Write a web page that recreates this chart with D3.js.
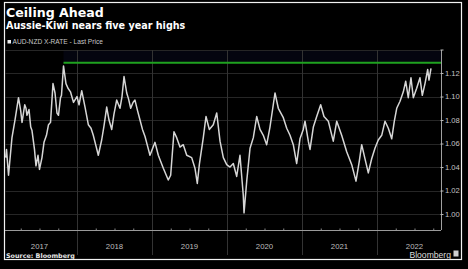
<!DOCTYPE html>
<html>
<head>
<meta charset="utf-8">
<script src="https://cdn.jsdelivr.net/npm/d3@7"></script>
<style>
  html, body { margin: 0; padding: 0; background: #000; }
  svg { display: block; }
  text { font-family: "Liberation Sans", Arial, sans-serif; }
</style>
</head>
<body>
<svg></svg>
<script>
// decimal years
const years = [
  2017.049, 2017.060, 2017.087, 2017.120, 2017.133, 2017.173, 2017.220, 2017.249, 2017.267, 2017.303,
  2017.320, 2017.333, 2017.360, 2017.383, 2017.400, 2017.433, 2017.453, 2017.480, 2017.500, 2017.533,
  2017.560, 2017.593, 2017.620, 2017.647, 2017.680, 2017.707, 2017.733, 2017.753, 2017.780, 2017.793,
  2017.820, 2017.853, 2017.880, 2017.913, 2017.953, 2018.000, 2018.027, 2018.063, 2018.107, 2018.151,
  2018.187, 2018.217, 2018.253, 2018.284, 2018.329, 2018.360, 2018.396, 2018.427, 2018.463, 2018.493,
  2018.529, 2018.573, 2018.600, 2018.627, 2018.663, 2018.687, 2018.716, 2018.747, 2018.773, 2018.807,
  2018.840, 2018.873, 2018.907, 2018.940, 2018.973, 2019.040, 2019.084, 2019.151, 2019.217, 2019.249,
  2019.293, 2019.329, 2019.373, 2019.417, 2019.463, 2019.529, 2019.573, 2019.604, 2019.631, 2019.684,
  2019.720, 2019.764, 2019.817, 2019.863, 2019.907, 2019.951, 2019.996, 2020.040, 2020.084, 2020.129,
  2020.173, 2020.217, 2020.227, 2020.263, 2020.307, 2020.351, 2020.396, 2020.440, 2020.484, 2020.529,
  2020.573, 2020.617, 2020.640, 2020.684, 2020.751, 2020.796, 2020.840, 2020.884, 2020.929, 2020.973,
  2021.017, 2021.040, 2021.084, 2021.107, 2021.151, 2021.196, 2021.249, 2021.293, 2021.351, 2021.417,
  2021.463, 2021.529, 2021.596, 2021.663, 2021.720, 2021.764, 2021.796, 2021.840, 2021.884, 2021.929,
  2021.973, 2022.017, 2022.063, 2022.107, 2022.151, 2022.196, 2022.231, 2022.263, 2022.307, 2022.351,
  2022.383, 2022.417, 2022.453, 2022.484, 2022.529, 2022.573, 2022.604, 2022.640, 2022.676, 2022.693,
  2022.720
];

// AUD-NZD cross rate, last price
const rates = [
  1.048, 1.055, 1.033, 1.056, 1.065, 1.080, 1.099, 1.088, 1.078, 1.093,
  1.090, 1.084, 1.089, 1.074, 1.071, 1.055, 1.041, 1.050, 1.038, 1.048,
  1.061, 1.067, 1.076, 1.078, 1.111, 1.103, 1.086, 1.084, 1.099, 1.101,
  1.126, 1.111, 1.107, 1.104, 1.095, 1.100, 1.093, 1.105, 1.091, 1.076,
  1.073, 1.067, 1.058, 1.050, 1.063, 1.075, 1.091, 1.080, 1.072, 1.085,
  1.097, 1.090, 1.100, 1.117, 1.103, 1.098, 1.090, 1.095, 1.097, 1.088,
  1.080, 1.072, 1.066, 1.058, 1.050, 1.061, 1.050, 1.039, 1.029, 1.033,
  1.070, 1.065, 1.057, 1.059, 1.050, 1.048, 1.039, 1.026, 1.042, 1.065,
  1.083, 1.072, 1.076, 1.086, 1.062, 1.048, 1.042, 1.040, 1.043, 1.032,
  1.050, 1.016, 1.001, 1.028, 1.056, 1.065, 1.083, 1.072, 1.067, 1.059,
  1.074, 1.093, 1.103, 1.090, 1.082, 1.073, 1.067, 1.059, 1.043, 1.064,
  1.072, 1.079, 1.062, 1.055, 1.074, 1.083, 1.093, 1.083, 1.079, 1.062,
  1.079, 1.067, 1.053, 1.042, 1.028, 1.045, 1.059, 1.047, 1.035, 1.047,
  1.056, 1.063, 1.067, 1.079, 1.073, 1.064, 1.079, 1.090, 1.096, 1.104,
  1.113, 1.099, 1.116, 1.099, 1.107, 1.116, 1.101, 1.111, 1.123, 1.114,
  1.124
];

const ceiling = 1.1288;
const yTicks = [1.00, 1.02, 1.04, 1.06, 1.08, 1.10, 1.12, 1.14];
const yearLabels = ['2017', '2018', '2019', '2020', '2021', '2022'];

const width = 468;
const height = 269;
const plot = {left: 5, right: 441, top: 50, bottom: 230};

const data = years.map((d, i) => ({year: d, rate: rates[i]}));

const x = d3.scaleLinear()
            .domain([2017, 2023])
            .range([2, 452]);

const y = d3.scaleLinear()
            .domain([0.9864, 1.1396])
            .range([plot.bottom, plot.top]);

const svg = d3.select('svg')
    .attr('width', width)
    .attr('height', height)
    .style('background', '#000');

// frame
svg.append('rect')
    .attr('x', 4.5)
    .attr('y', 2.5)
    .attr('width', 457)
    .attr('height', 257)
    .attr('fill', 'none')
    .attr('stroke', '#f2f2f2')
    .attr('stroke-width', 1.2);

// titles
svg.append('text')
    .attr('x', 6)
    .attr('y', 17)
    .attr('fill', '#ffffff')
    .style('font-family', '"DejaVu Sans", sans-serif')
    .style('font-weight', 'bold')
    .style('font-size', '12.6px')
    .text('Ceiling Ahead');

svg.append('text')
    .attr('x', 6)
    .attr('y', 28.5)
    .attr('fill', '#ffffff')
    .style('font-family', '"DejaVu Sans", sans-serif')
    .style('font-weight', 'bold')
    .style('font-size', '9.6px')
    .text('Aussie-Kiwi nears five year highs');

// legend
svg.append('rect')
    .attr('x', 7.5)
    .attr('y', 40)
    .attr('width', 3.5)
    .attr('height', 3.5)
    .attr('fill', '#eeeeee');

svg.append('text')
    .attr('x', 12.5)
    .attr('y', 44.3)
    .attr('fill', '#c8c8c8')
    .style('font-size', '6.6px')
    .text('AUD-NZD X-RATE - Last Price');

// shaded band above the ceiling line
const peak = data[d3.maxIndex(data, d => d.rate)];

svg.append('rect')
    .attr('x', x(peak.year))
    .attr('y', plot.top)
    .attr('width', plot.right - x(peak.year))
    .attr('height', y(ceiling) - plot.top)
    .attr('fill', '#04050f');

// grid
svg.append('g')
  .selectAll('line')
  .data(yTicks)
  .join('line')
    .attr('x1', plot.left)
    .attr('x2', plot.right)
    .attr('y1', d => Math.round(y(d)) + 0.5)
    .attr('y2', d => Math.round(y(d)) + 0.5)
    .attr('stroke', '#262626');

svg.append('g')
  .selectAll('line')
  .data(d3.range(2018, 2023))
  .join('line')
    .attr('x1', d => Math.round(x(d)) + 0.5)
    .attr('x2', d => Math.round(x(d)) + 0.5)
    .attr('y1', plot.top)
    .attr('y2', 255)
    .attr('stroke', '#333333');

// ceiling line
svg.append('line')
    .attr('x1', x(peak.year))
    .attr('x2', plot.right)
    .attr('y1', y(ceiling))
    .attr('y2', y(ceiling))
    .attr('stroke', '#1fa21f')
    .attr('stroke-width', 2);

// price line
const line = d3.line()
               .x(d => x(d.year))
               .y(d => y(d.rate));

svg.append('path')
    .datum(data)
    .attr('d', line)
    .attr('fill', 'none')
    .attr('stroke', '#d6d6d6')
    .attr('stroke-width', 1.5)
    .attr('stroke-linejoin', 'round');

// bottom axis with quarter ticks
const quarters = d3.range(2017.25, 2022.9, 0.25).filter(d => d % 1 !== 0 && x(d) > plot.left && x(d) < plot.right);

const xAxis = svg.append('g')
    .attr('transform', `translate(0, ${plot.bottom + 0.5})`)
    .call(d3.axisBottom(x).tickValues(quarters).tickSize(-2).tickFormat(''));

xAxis.select('.domain').remove();
xAxis.selectAll('.tick line').attr('stroke', '#888');

svg.append('line')
    .attr('x1', plot.left)
    .attr('x2', plot.right)
    .attr('y1', plot.bottom + 0.5)
    .attr('y2', plot.bottom + 0.5)
    .attr('stroke', '#9a9a9a');

svg.append('g')
  .selectAll('text')
  .data(yearLabels)
  .join('text')
    .attr('x', d => x(+d + 0.5))
    .attr('y', 249)
    .attr('text-anchor', 'middle')
    .attr('fill', '#bdbdbd')
    .style('font-size', '7.8px')
    .text(d => d);

// right axis
const yAxis = svg.append('g')
    .attr('transform', `translate(${plot.right + 0.5}, 0)`)
    .call(d3.axisRight(y)
            .tickValues(yTicks)
            .tickSize(2)
            .tickPadding(1.5)
            .tickFormat(d => d === 1.14 ? '' : d3.format('.2f')(d)));

yAxis.select('.domain')
    .attr('d', `M0,${plot.top}V${plot.bottom}`)
    .attr('stroke', '#a0a0a0');
yAxis.selectAll('.tick line').attr('stroke', '#bbb').attr('x1', -1);
yAxis.selectAll('.tick text')
    .attr('fill', '#c4c4c4')
    .style('font-size', '7.6px')
    .style('font-family', '"Liberation Sans", Arial, sans-serif');

// footer
svg.append('text')
    .attr('x', 6)
    .attr('y', 257.5)
    .attr('fill', '#e8e8e8')
    .style('font-family', '"DejaVu Sans", sans-serif')
    .style('font-weight', 'bold')
    .style('font-size', '6.4px')
    .text('Source: Bloomberg');

svg.append('text')
    .attr('x', 451)
    .attr('y', 257.5)
    .attr('text-anchor', 'end')
    .attr('fill', '#dcdcdc')
    .style('font-size', '8.6px')
    .text('Bloomberg');

svg.append('rect')
    .attr('x', 453.5)
    .attr('y', 250.5)
    .attr('width', 5)
    .attr('height', 6)
    .attr('fill', '#cfcfcf');
</script>
</body>
</html>
